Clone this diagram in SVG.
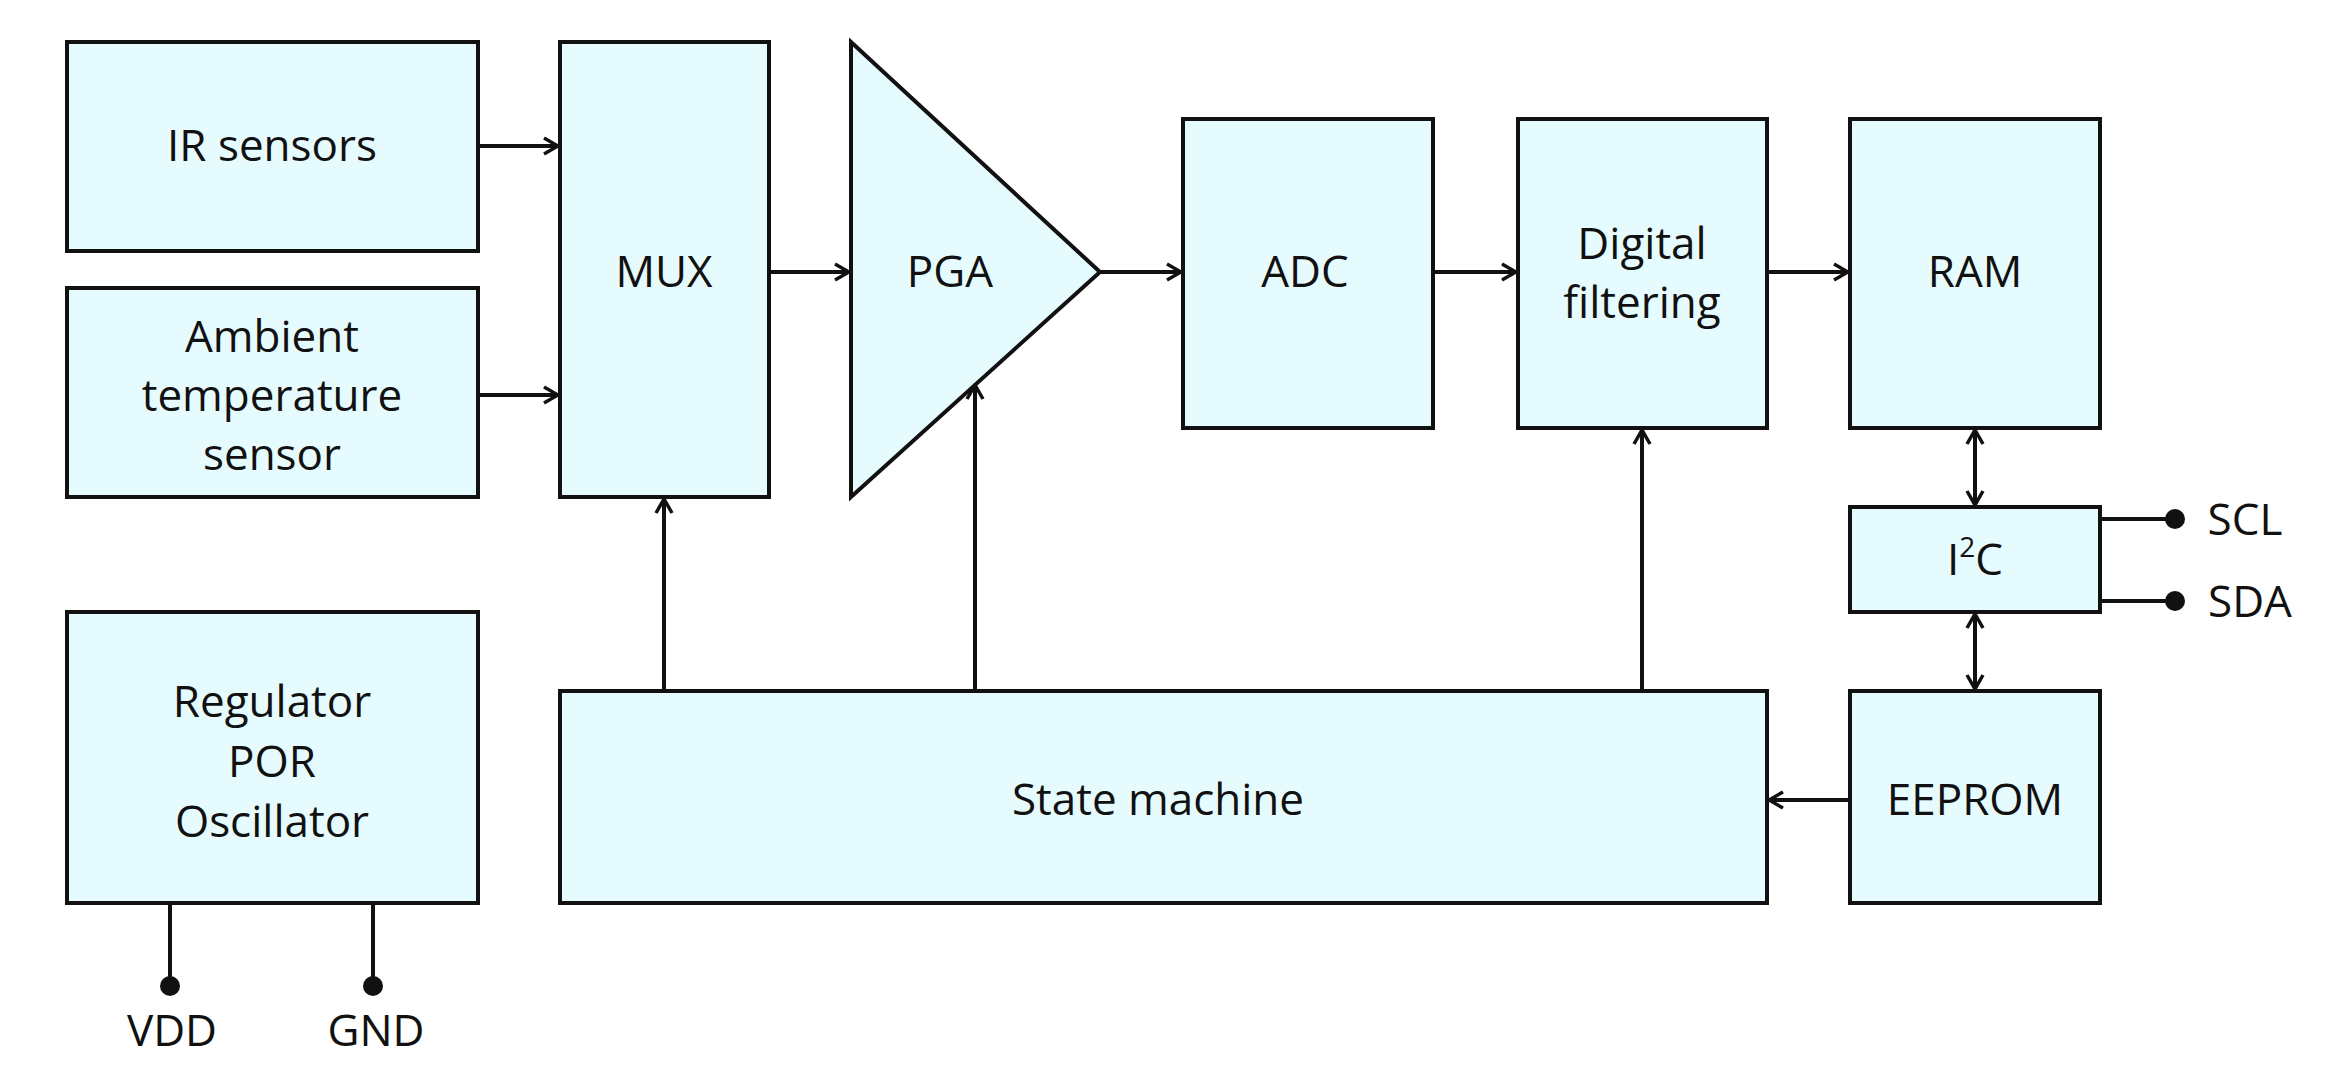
<svg xmlns="http://www.w3.org/2000/svg" width="2328" height="1083" viewBox="0 0 2328 1083">
<style>
.b{fill:#e6fbfe;stroke:#111;stroke-width:4}
.t{font-family:"Open Sans","Liberation Sans",sans-serif;font-size:44px;fill:#111;text-anchor:middle}
.c{stroke:#111;stroke-width:4;fill:none}
</style>
<defs>
<marker id="a" viewBox="0 0 20 20" refX="18" refY="10" markerWidth="20" markerHeight="20" markerUnits="userSpaceOnUse" orient="auto-start-reverse"><path d="M4 2 L18 10 L4 18" fill="none" stroke="#111" stroke-width="3.5"/></marker>
</defs>
<rect width="2328" height="1083" fill="#fff"/>
<g id="ir"><rect class="b" x="67" y="42" width="411" height="209"/><text class="t" x="272" y="161">IR sensors</text></g>
<g id="amb"><rect class="b" x="67" y="288" width="411" height="209"/><text class="t" x="272" y="352">Ambient</text><text class="t" x="272" y="411">temperature</text><text class="t" x="272" y="470">sensor</text></g>
<g id="reg"><rect class="b" x="67" y="612" width="411" height="291"/><text class="t" x="272" y="717">Regulator</text><text class="t" x="272" y="777">POR</text><text class="t" x="272" y="837">Oscillator</text></g>
<g id="mux"><rect class="b" x="560" y="42" width="209" height="455"/><text class="t" x="664" y="287">MUX</text></g>
<g id="pga"><polygon class="b" points="851,42 1100,272 851,497"/><text class="t" x="950" y="287">PGA</text></g>
<g id="adc"><rect class="b" x="1183" y="119" width="250" height="309"/><text class="t" x="1305" y="287">ADC</text></g>
<g id="df"><rect class="b" x="1518" y="119" width="249" height="309"/><text class="t" x="1642" y="259">Digital</text><text class="t" x="1642" y="318">filtering</text></g>
<g id="ram"><rect class="b" x="1850" y="119" width="250" height="309"/><text class="t" x="1975" y="287">RAM</text></g>
<g id="i2c"><rect class="b" x="1850" y="507" width="250" height="105"/><text class="t" x="1975" y="575">I<tspan font-size="28" dy="-18">2</tspan><tspan dy="18">C</tspan></text></g>
<g id="eeprom"><rect class="b" x="1850" y="691" width="250" height="212"/><text class="t" x="1975" y="815">EEPROM</text></g>
<g id="sm"><rect class="b" x="560" y="691" width="1207" height="212"/><text class="t" x="1158" y="815">State machine</text></g>
<g id="connectors">
<line class="c" x1="478" y1="146" x2="558" y2="146" marker-end="url(#a)"/>
<line class="c" x1="478" y1="395" x2="558" y2="395" marker-end="url(#a)"/>
<line class="c" x1="769" y1="272" x2="849" y2="272" marker-end="url(#a)"/>
<line class="c" x1="1100" y1="272" x2="1181" y2="272" marker-end="url(#a)"/>
<line class="c" x1="1433" y1="272" x2="1516" y2="272" marker-end="url(#a)"/>
<line class="c" x1="1767" y1="272" x2="1848" y2="272" marker-end="url(#a)"/>
<line class="c" x1="664" y1="691" x2="664" y2="499" marker-end="url(#a)"/>
<line class="c" x1="975" y1="691" x2="975" y2="385" marker-end="url(#a)"/>
<line class="c" x1="1642" y1="691" x2="1642" y2="430" marker-end="url(#a)"/>
<line class="c" x1="1850" y1="800" x2="1769" y2="800" marker-end="url(#a)"/>
<line class="c" x1="1975" y1="430" x2="1975" y2="505" marker-start="url(#a)" marker-end="url(#a)"/>
<line class="c" x1="1975" y1="614" x2="1975" y2="689" marker-start="url(#a)" marker-end="url(#a)"/>
<line class="c" x1="2100" y1="519" x2="2175" y2="519"/><circle cx="2175" cy="519" r="10" fill="#111"/>
<line class="c" x1="2100" y1="601" x2="2175" y2="601"/><circle cx="2175" cy="601" r="10" fill="#111"/>
<line class="c" x1="170" y1="903" x2="170" y2="986"/><circle cx="170" cy="986" r="10" fill="#111"/>
<line class="c" x1="373" y1="903" x2="373" y2="986"/><circle cx="373" cy="986" r="10" fill="#111"/>
</g>
<text class="t" x="2245" y="535">SCL</text>
<text class="t" x="2250" y="617">SDA</text>
<text class="t" x="172" y="1046">VDD</text>
<text class="t" x="376" y="1046">GND</text>
</svg>
